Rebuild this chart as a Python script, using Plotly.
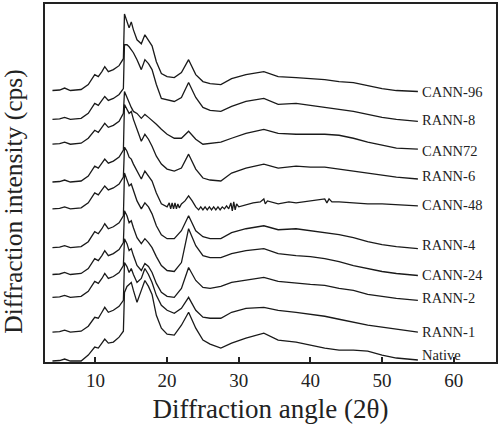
import plotly.graph_objects as go

# Common 2-theta grid (degrees) for most patterns
two_theta = [4.0, 5.0, 5.7, 6.5, 8.0, 9.0, 9.9, 10.4, 10.9, 11.3, 11.8, 12.5, 13.3, 13.9,
             14.05, 14.4, 14.7, 15.0, 15.3, 15.8, 16.4, 16.9, 17.4, 17.9, 18.5, 19.2,
             20.0, 21.0, 22.0, 23.0, 24.0, 25.0, 26.0, 27.5, 29.0, 31.0, 33.5, 35.5,
             38.0, 40.0, 42.0, 44.0, 46.0, 48.0, 50.0, 52.0, 55.0]

# Stacked intensities (arbitrary units, offset patterns as in the figure)
cann_96 = [273, 273.5, 275.5, 273, 274, 279, 289, 287, 292, 297, 292, 294, 298, 305,
           350, 343, 336, 342, 334, 324, 320, 329, 324, 318, 302, 290,
           287, 286, 291, 304, 289, 282, 280, 279, 285, 289, 292, 287,
           286, 285, 284, 282, 281, 278, 275, 273, 272]
rann_8 = [244, 244.5, 246, 244, 245, 250, 260, 258, 263, 267, 263, 265, 269, 275,
          319, 319, 317, 314, 311, 304, 294, 304, 300, 294, 279, 265,
          264, 262, 266, 281, 266, 256, 253, 252, 257, 262, 265, 259,
          260, 258, 256, 254, 252, 249, 246, 244, 242]
cann_72 = [219, 219.5, 221, 219, 220, 225, 233, 231, 236, 240, 236, 238, 242, 250,
           272, 266, 260, 256, 252, 250, 245, 249, 246, 243, 239, 234,
           229, 225, 225, 232, 224, 219, 220, 221, 225, 230, 234, 230,
           229, 229, 229, 228, 225, 221, 218, 215, 214]
rann_6 = [181, 181.5, 183, 181, 182, 187, 197, 195, 200, 204, 200, 202, 206, 213,
          259, 254, 250, 252, 244, 234, 222, 229, 224, 217, 207, 199,
          194, 192, 195, 209, 194, 185, 183, 182, 190, 195, 199, 195,
          197, 196, 196, 194, 192, 190, 188, 186, 184]
rann_4 = [115, 115.5, 117, 115, 116, 121, 131, 129, 134, 139, 134, 136, 140, 147,
          190, 184, 177, 179, 172, 162, 154, 160, 156, 149, 137, 128,
          124, 124, 132, 147, 132, 126, 124, 124, 130, 134, 137, 133,
          134, 132, 130, 128, 125, 121, 118, 116, 114]
cann_24 = [88, 88.5, 90, 88, 89, 94, 104, 102, 107, 112, 107, 109, 113, 120,
           152, 147, 140, 142, 135, 125, 119, 124, 120, 115, 106, 97,
           92, 91, 100, 134, 117, 107, 105, 105, 109, 112, 114, 109,
           107, 106, 104, 101, 97, 94, 91, 89, 87]
rann_2 = [65, 65.5, 67, 65, 66, 71, 81, 79, 84, 89, 84, 86, 90, 97,
          124, 119, 112, 114, 107, 97, 92, 99, 96, 90, 79, 70,
          66, 65, 74, 95, 82, 75, 74, 76, 80, 82, 85, 81,
          79, 78, 77, 74, 72, 68, 66, 64, 62]
rann_1 = [30, 30.5, 32, 30, 31, 36, 45, 44, 50, 55, 50, 52, 56, 62,
          100, 96, 90, 94, 88, 80, 84, 94, 88, 80, 67, 57,
          52, 49, 54, 65, 52, 45, 44, 44, 50, 54, 55, 52,
          50, 48, 46, 43, 40, 37, 35, 33, 30]
native = [1, 1.5, 3, 1, 1, 7, 15, 14, 19, 23, 19, 20, 25, 31,
          70, 76, 78, 80, 72, 60, 72, 82, 76, 68, 47, 34,
          28, 27, 37, 50, 34, 22, 18, 14, 19, 24, 29, 22,
          20, 17, 14, 12, 12, 11, 7, 4, 2]

# CANN-48 has its own, denser grid (sawtooth artefacts in the recording)
two_theta_48 = [4.0, 5.0, 5.7, 6.5, 8.0, 9.0, 9.9, 10.4, 10.9, 11.3, 11.8, 12.5, 13.3, 13.9,
                14.05, 14.4, 14.7, 15.0, 15.3, 15.8, 16.4, 16.9, 17.4, 17.9, 18.5, 19.2,
                20.0, 20.3, 20.5, 20.7, 20.9, 21.1, 21.3, 21.5, 21.7, 22.0, 22.5, 23.0,
                23.5, 24.0, 24.4, 24.7, 25.0, 25.3, 25.6, 25.9, 26.2, 26.5, 26.8, 27.1,
                27.4, 27.7, 28.0, 28.3, 28.6, 28.9, 29.1, 29.3, 29.5, 29.7, 30.0, 31.0,
                32.0, 33.0, 33.5, 33.7, 34.0, 35.5, 37.0, 38.0, 39.0, 40.0, 41.0, 42.0,
                42.3, 42.6, 43.0, 44.0, 46.0, 48.0, 50.0, 52.0, 55.0]
cann_48 = [154, 154.5, 156, 154, 155, 160, 170, 168, 173, 177, 173, 175, 179, 186,
           216, 212, 206, 204, 199, 192, 184, 192, 187, 182, 170, 159,
           156, 160, 154, 160, 154, 160, 154, 159, 155, 159, 162, 167,
           162, 156, 153, 156, 153, 156, 153, 156, 153, 156, 153, 156,
           153, 156, 154, 157, 154, 160, 152, 161, 153, 159, 156, 158,
           160, 161, 164, 159, 162, 159, 161, 160, 161, 162, 163, 164,
           160, 164, 161, 161, 160, 159, 159, 158, 157]

series = [
    ("CANN-96", two_theta, cann_96),
    ("RANN-8", two_theta, rann_8),
    ("CANN72", two_theta, cann_72),
    ("RANN-6", two_theta, rann_6),
    ("CANN-48", two_theta_48, cann_48),
    ("RANN-4", two_theta, rann_4),
    ("CANN-24", two_theta, cann_24),
    ("RANN-2", two_theta, rann_2),
    ("RANN-1", two_theta, rann_1),
    ("Native", two_theta, native),
]

# Label vertical positions (same units as intensities)
label_y = [272, 243, 212, 187, 158, 118, 87, 64, 30, 7]
x_ticks = [10, 20, 30, 40, 50, 60]

FONT = "Liberation Serif, Times New Roman, serif"

fig = go.Figure()
for (name, xs, ys) in series:
    fig.add_trace(go.Scatter(x=xs, y=ys, mode="lines", name=name,
                             line=dict(color="#1a1a1a", width=1.3),
                             showlegend=False, hoverinfo="skip"))

for (name, _, _), ly in zip(series, label_y):
    fig.add_annotation(x=55.3, y=ly, text=name, showarrow=False,
                       xanchor="left", yanchor="middle",
                       font=dict(family=FONT, size=14.5, color="#222"))

fig.add_annotation(xref="paper", yref="paper", x=-0.0695, y=0.447,
                   text="Diffraction intensity (cps)", textangle=-90,
                   showarrow=False, xanchor="center", yanchor="middle",
                   borderpad=0,
                   font=dict(family=FONT, size=25.5, color="#222"))

fig.update_layout(
    width=500, height=431,
    margin=dict(l=45, r=2, t=2, b=69),
    paper_bgcolor="white", plot_bgcolor="white",
    font=dict(family=FONT, color="#222"),
)
fig.update_xaxes(range=[2.96, 65.9], tickvals=x_ticks, ticks="inside", ticklen=5,
                 tickwidth=1.5, tickcolor="#222", showgrid=False, zeroline=False,
                 showline=True, linecolor="#222", linewidth=2, mirror=True,
                 tickfont=dict(family=FONT, size=19, color="#222"),
                 title=dict(text="Diffraction angle (2θ)", standoff=9,
                            font=dict(family=FONT, size=27, color="#222")))
fig.update_yaxes(range=[0, 360], showticklabels=False, ticks="", showgrid=False,
                 zeroline=False, showline=True, linecolor="#222", linewidth=2,
                 mirror=True)

fig.write_html("out.html", config={"displayModeBar": False},
               post_script="document.body.style.margin='0px';")
